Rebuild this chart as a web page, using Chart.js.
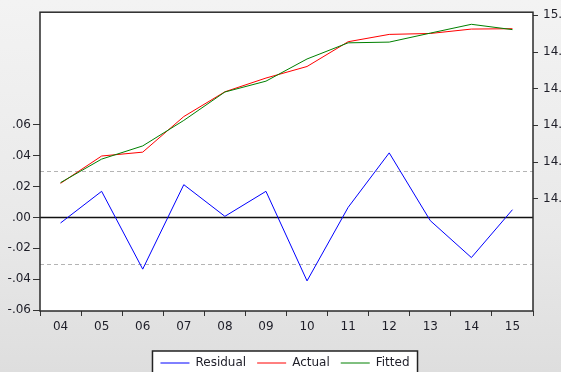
<!DOCTYPE html>
<html>
<head>
<meta charset="utf-8">
<script src="https://cdn.jsdelivr.net/npm/chart.js@4/dist/chart.umd.min.js"></script>
<style>
  html, body { margin: 0; padding: 0; width: 561px; height: 372px; overflow: hidden; }
  body { background: linear-gradient(to bottom, #f3f3f3 0%, #e9e9e9 60%, #dedede 100%); }
  #wrap { position: absolute; left: 0; top: 0; width: 570px; height: 379px; }
</style>
</head>
<body>
<div id="wrap"><canvas id="c" width="570" height="379"></canvas></div>
<script>
// Years of the sample (two-digit labels)
const years = ['04', '05', '06', '07', '08', '09', '10', '11', '12', '13', '14', '15'];

// Residual series (left axis)
const residual = [-0.0036, 0.0169, -0.0335, 0.0212, 0.0007, 0.0169, -0.0411, 0.0065, 0.0418, -0.0021, -0.0260, 0.0050];

// Actual and fitted series (right axis)
const actual = [14.084, 14.233, 14.254, 14.448, 14.583, 14.658, 14.721, 14.856, 14.896, 14.901, 14.925, 14.927];
const fitted = [14.088, 14.216, 14.288, 14.427, 14.582, 14.641, 14.762, 14.850, 14.854, 14.903, 14.951, 14.922];

// Tick values for both vertical axes
const residualTicks = [-0.06, -0.04, -0.02, 0.00, 0.02, 0.04, 0.06];
const levelTicks = [14.0, 14.2, 14.4, 14.6, 14.8, 15.0];

// Residual band (plus/minus one standard error)
const seBand = 0.030;

const FONT = { family: 'DejaVu Sans', size: 12 };
const INK = '#1e1e28';

const frame = {
  id: 'frame',
  beforeDraw(chart) {
    const { ctx, chartArea: a } = chart;
    ctx.save();
    ctx.fillStyle = '#ffffff';
    ctx.fillRect(a.left, a.top, a.right - a.left, a.bottom - a.top);
    // legend box behind the legend items
    const hb = chart.legend && chart.legend.legendHitBoxes;
    if (hb && hb.length) {
      const l = hb[0].left - 8;
      const r = hb[hb.length - 1].left + hb[hb.length - 1].width + 8;
      const t = hb[0].top - 6;
      ctx.fillRect(l, t, r - l, 40);
      ctx.strokeStyle = '#222';
      ctx.lineWidth = 1.5;
      ctx.strokeRect(l, t, r - l, 40);
    }
    ctx.restore();
  },
  beforeDatasetsDraw(chart) {
    const { ctx, chartArea: a, scales } = chart;
    const y = scales.y;
    ctx.save();
    ctx.lineWidth = 1;
    ctx.strokeStyle = '#b4b4b4';
    ctx.setLineDash([4, 3]);
    [seBand, -seBand].forEach(v => {
      const py = Math.round(y.getPixelForValue(v)) + 0.5;
      ctx.beginPath(); ctx.moveTo(a.left, py); ctx.lineTo(a.right, py); ctx.stroke();
    });
    ctx.setLineDash([]);
    ctx.strokeStyle = '#111';
    ctx.lineWidth = 1.5;
    const z = y.getPixelForValue(0);
    ctx.beginPath(); ctx.moveTo(a.left, z); ctx.lineTo(a.right, z); ctx.stroke();
    ctx.restore();
  },
  afterDatasetsDraw(chart) {
    const { ctx, chartArea: a } = chart;
    ctx.save();
    ctx.strokeStyle = '#2a2a2a';
    ctx.lineWidth = 1.5;
    ctx.strokeRect(a.left, a.top, a.right - a.left, a.bottom - a.top);
    ctx.restore();
  }
};

const fmtResid = v => {
  const s = Math.abs(v).toFixed(2).replace(/^0/, '');
  return (v < -1e-9 ? '-' : '') + s;
};

new Chart(document.getElementById('c'), {
  type: 'line',
  data: {
    labels: years,
    datasets: [
      { label: 'Residual', data: residual, yAxisID: 'y', borderColor: '#0000ff', order: 0 },
      { label: 'Actual', data: actual, yAxisID: 'y1', borderColor: '#ff0000', order: 2 },
      { label: 'Fitted', data: fitted, yAxisID: 'y1', borderColor: '#008000', order: 1 }
    ]
  },
  options: {
    responsive: false,
    devicePixelRatio: 1,
    animation: false,
    layout: { padding: { top: 12, left: 0, right: 0, bottom: 0 } },
    elements: {
      line: { borderWidth: 1, tension: 0, fill: false },
      point: { radius: 0, hoverRadius: 0 }
    },
    plugins: {
      tooltip: { enabled: false },
      legend: {
        position: 'bottom',
        labels: {
          usePointStyle: true,
          pointStyle: 'line',
          pointStyleWidth: 29,
          padding: 11,
          color: INK,
          font: FONT,
          sort: (a, b) => a.datasetIndex - b.datasetIndex
        }
      }
    },
    scales: {
      x: {
        type: 'category',
        offset: true,
        grid: { offset: true, drawOnChartArea: false, tickLength: 5, color: '#333' },
        border: { display: false },
        ticks: { color: INK, font: FONT, padding: 4, maxRotation: 0, autoSkip: false },
        afterFit(s) { s.height = 35; }
      },
      y: {
        position: 'left',
        min: -0.0606,
        max: 0.1329,
        grid: { drawOnChartArea: false, tickLength: 7, color: '#333' },
        border: { display: false },
        ticks: { color: INK, font: FONT, padding: 2, callback: v => fmtResid(v) },
        afterBuildTicks(s) { s.ticks = residualTicks.map(v => ({ value: v })); },
        afterFit(s) { s.width = 40; }
      },
      y1: {
        position: 'right',
        min: 13.388,
        max: 15.017,
        grid: { drawOnChartArea: false, tickLength: 5, color: '#333' },
        border: { display: false },
        ticks: { color: INK, font: FONT, padding: 5, callback: v => Number(v).toFixed(1) },
        afterBuildTicks(s) { s.ticks = levelTicks.map(v => ({ value: v })); },
        afterFit(s) { s.width = 37; }
      }
    }
  },
  plugins: [frame]
});
</script>
</body>
</html>
